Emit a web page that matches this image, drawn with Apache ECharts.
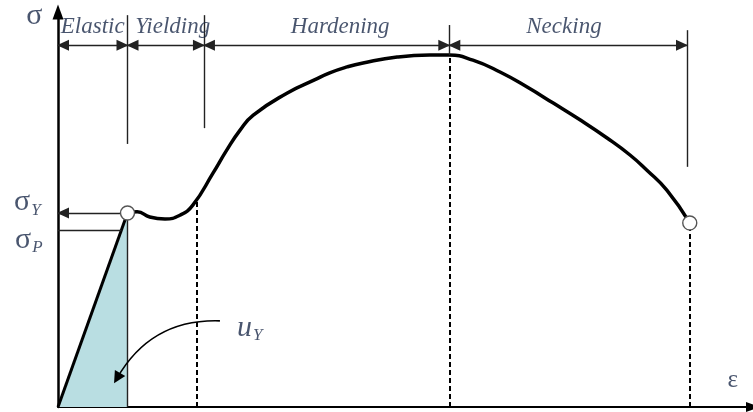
<!DOCTYPE html>
<html>
<head>
<meta charset="utf-8">
<script src="https://cdn.jsdelivr.net/npm/echarts@6/dist/echarts.min.js"></script>
<style>
  html, body { margin: 0; padding: 0; background: #fff; }
  #chart { width: 753px; height: 412px; }
</style>
</head>
<body>
<div id="chart"></div>
<script>
// Engineering stress–strain curve of a ductile metal, normalised units (0–100 on both axes)

// Elastic branch: straight line from the origin to the yield point
const elasticStrain = [0, 10.0];
const elasticStress = [0, 49.1];

// Yielding plateau, strain hardening and necking up to fracture
const plasticStrain = [10.0, 11.4, 13.2, 15.4, 17.6, 19.4, 22.3, 24.3, 26.2, 28.1, 33.0,
  36.9, 39.1, 41.6, 43.9, 48.8, 53.5, 56.3, 59.7, 63.6, 67.5, 71.2, 75.1, 79.0, 82.3, 84.7, 87.6, 90.9];
const plasticStress = [49.1, 49.4, 48.1, 47.6, 48.6, 51.1, 59.2, 65.1, 70.1, 73.9, 79.5,
  82.8, 84.6, 86.1, 87.1, 88.6, 89.1, 89.1, 87.8, 84.8, 81.0, 77.0, 72.7, 68.1, 63.8, 60.0, 54.9, 46.6];

// Characteristic points
const yieldStrain = 10.0, yieldStress = 49.1;
const proportionalStress = 44.8;
const plateauEndStrain = 20.0, plateauEndStress = 52.2;
const ultimateStrain = 56.3, ultimateStress = 89.1;
const fractureStrain = 90.9, fractureStress = 46.6;

// Phases of the test
const phaseNames = ['Elastic', 'Yielding', 'Hardening', 'Necking'];
const phaseBounds = [0, 10.0, 21.0, 56.3, 90.5];
const phaseLabelX = [5.0, 16.5, 40.6, 72.8];
const phaseLabelY = 96.2;
const phaseArrowY = 91.6;
const dividerTop = [99.2, 99.2, 96.7, 95.4];
const dividerBottom = [66.6, 70.6, 89.1, 60.8];

// Strain energy pointer (u_Y) from label to shaded area
const energyArrowFrom = [23.3, 21.8];
const energyArrowTo = [8.5, 7.3];

const ink = '#000';
const textColor = '#1c2a4a';
const serif = '"Liberation Serif", "DejaVu Serif", serif';

const zip = (xs, ys) => xs.map((x, i) => [x, ys[i]]);

// --- annotation lines -------------------------------------------------------
const thin = { color: '#222', width: 1.4, type: 'solid' };
const dashed = { color: ink, width: 2, type: [5, 3] };

const annotationLines = [];

// vertical dividers between phases
phaseBounds.slice(1).forEach((x, i) => {
  annotationLines.push([
    { coord: [x, dividerTop[i]], lineStyle: thin },
    { coord: [x, dividerBottom[i]] }
  ]);
});

// double-headed arrows spanning each phase
phaseNames.forEach((name, i) => {
  annotationLines.push([
    { coord: [phaseBounds[i], phaseArrowY], symbol: 'triangle', lineStyle: thin },
    { coord: [phaseBounds[i + 1], phaseArrowY], symbol: 'triangle' }
  ]);
});

// drop lines to the strain axis
[[plateauEndStrain, plateauEndStress], [ultimateStrain, ultimateStress], [fractureStrain, fractureStress]]
  .forEach(([x, y]) => {
    annotationLines.push([
      { coord: [x, 0], lineStyle: dashed },
      { coord: [x, y] }
    ]);
  });

// right edge of the elastic strain-energy triangle
annotationLines.push([
  { coord: [yieldStrain, 0], lineStyle: thin },
  { coord: [yieldStrain, yieldStress] }
]);

// yield stress pointer to the stress axis
annotationLines.push([
  { coord: [yieldStrain, yieldStress], lineStyle: thin },
  { coord: [0, yieldStress], symbol: 'triangle' }
]);

// proportional limit
annotationLines.push([
  { coord: [0, proportionalStress], lineStyle: thin },
  { coord: [yieldStrain * proportionalStress / yieldStress, proportionalStress] }
]);

// --- text labels ------------------------------------------------------------
const sub = (base, s) => `{b|${base}}{s|${s}}`;
const textItems = [
  { name: '{g|σ}', value: [-3.4, 99.0] },
  { name: sub('σ', 'Y'), value: [-4.4, 51.8] },
  { name: sub('σ', 'P'), value: [-4.2, 42.3] },
  { name: '{e|ε}', value: [97.1, 6.8] },
  { name: '{u|u}{s|Y}', value: [27.6, 20.0] }
].concat(phaseNames.map((n, i) => ({ name: `{p|${n}}`, value: [phaseLabelX[i], phaseLabelY] })));

const chart = echarts.init(document.getElementById('chart'), null, { renderer: 'canvas' });

chart.setOption({
  animation: false,
  backgroundColor: '#fff',
  grid: { left: 58, right: 0, top: 12, bottom: 5, containLabel: false },
  xAxis: {
    type: 'value', min: 0, max: 100,
    axisLine: { show: true, symbol: ['none', 'triangle'], symbolSize: [10, 14],
      lineStyle: { color: ink, width: 2 } },
    axisTick: { show: false }, axisLabel: { show: false }, splitLine: { show: false }
  },
  yAxis: {
    type: 'value', min: 0, max: 100,
    axisLine: { show: true, symbol: ['none', 'triangle'], symbolSize: [11, 15],
      lineStyle: { color: ink, width: 2.5 } },
    axisTick: { show: false }, axisLabel: { show: false }, splitLine: { show: false }
  },
  series: [
    {
      name: 'Elastic',
      type: 'line',
      data: zip(elasticStrain, elasticStress),
      symbol: 'none',
      lineStyle: { color: ink, width: 3 },
      areaStyle: { color: '#b9dee2', opacity: 1 },
      z: 3
    },
    {
      name: 'Plastic',
      type: 'line',
      data: zip(plasticStrain, plasticStress),
      symbol: 'none',
      smooth: 0.5,
      lineStyle: { color: ink, width: 3.5 },
      z: 4
    },
    {
      name: 'Annotations',
      type: 'line',
      data: [],
      clip: false,
      markLine: {
        silent: true,
        animation: false,
        symbol: ['none', 'none'],
        symbolSize: [11, 12],
        symbolOffset: [[0, 5], [0, 5]],
        label: { show: false },
        lineStyle: thin,
        emphasis: { disabled: true },
        data: annotationLines
      },
      z: 2
    },
    {
      name: 'Strain energy',
      type: 'lines',
      coordinateSystem: 'cartesian2d',
      silent: true,
      symbol: ['none', 'triangle'],
      symbolSize: [10, 12],
      symbolOffset: [[0, 0], [0, 5]],
      lineStyle: { color: ink, width: 1.6, opacity: 1, curveness: -0.3 },
      data: [{ coords: [energyArrowFrom, energyArrowTo] }],
      z: 5
    },
    {
      name: 'Points',
      type: 'scatter',
      data: [[yieldStrain, yieldStress], [fractureStrain, fractureStress]],
      symbol: 'circle',
      symbolSize: 14,
      itemStyle: { color: '#fff', borderColor: '#555', borderWidth: 1.4, opacity: 1 },
      z: 6
    },
    {
      name: 'Labels',
      type: 'scatter',
      data: textItems,
      clip: false,
      symbolSize: 0,
      silent: true,
      label: {
        show: true,
        position: 'inside',
        formatter: p => p.name,
        rich: {
          p: { fontFamily: serif, fontStyle: 'italic', fontSize: 23, color: textColor },
          g: { fontFamily: serif, fontSize: 30, color: textColor },
          e: { fontFamily: serif, fontSize: 25, color: textColor },
          b: { fontFamily: serif, fontSize: 30, color: textColor, fontStyle: 'normal' },
          u: { fontFamily: serif, fontSize: 30, fontStyle: 'italic', color: textColor },
          s: { fontFamily: serif, fontSize: 17, fontStyle: 'italic', color: textColor, padding: [16, 0, 0, 1] }
        }
      },
      z: 7
    }
  ]
});
</script>
</body>
</html>
